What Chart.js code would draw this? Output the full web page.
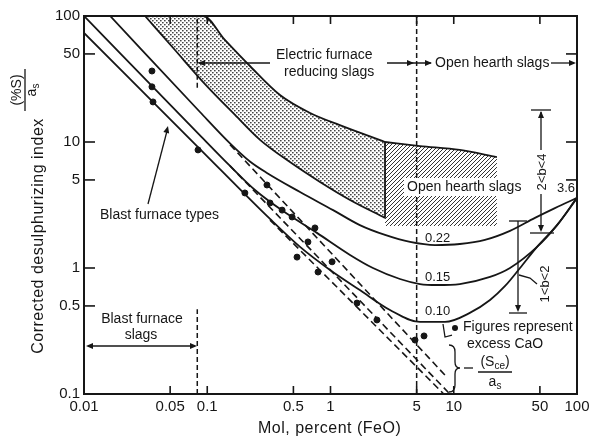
<!DOCTYPE html>
<html>
<head>
<meta charset="utf-8">
<script src="https://cdn.jsdelivr.net/npm/chart.js@4.4.0/dist/chart.umd.min.js"></script>
<style>
  html, body { margin: 0; padding: 0; background: #fff; }
</style>
</head>
<body>
<canvas id="Chart" width="597" height="440"></canvas>
<script>
const xTicks = [0.01, 0.05, 0.1, 0.5, 1, 5, 10, 50, 100];
const xTickLabels = ['0.01', '0.05', '0.1', '0.5', '1', '5', '10', '50', '100'];
const yTicks = [0.1, 0.5, 1, 5, 10, 50, 100];
const yTickLabels = ['0.1', '0.5', '1', '5', '10', '50', '100'];

// solid curves, labelled by excess CaO
const curve022 = [[0.0163, 100], [0.0873, 17.3], [0.153, 9.75], [0.222, 7.0], [0.305, 5.68], [0.566, 4.01], [1.05, 2.88], [1.73, 2.19], [2.77, 1.83], [4.42, 1.61], [7.05, 1.52], [11.2, 1.55], [17.9, 1.67], [28.6, 1.97], [45.6, 2.5], [66.2, 2.99], [100, 3.6]];
const curve015 = [[0.01, 100], [0.0873, 11.3], [0.153, 6.46], [0.244, 4.16], [0.412, 2.83], [0.776, 1.9], [1.44, 1.27], [2.21, 1.0], [3.66, 0.818], [5.32, 0.746], [7.31, 0.733], [11.2, 0.746], [19.7, 0.849], [28.6, 1.0], [47.4, 1.47], [68.9, 2.19], [100, 3.6]];
const curve010 = [[0.01, 73.3], [0.0873, 8.79], [0.323, 2.45], [0.566, 1.47], [0.991, 0.964], [1.73, 0.668], [3.04, 0.464], [5.32, 0.373], [8.49, 0.373], [13.5, 0.44], [19.7, 0.557], [26.1, 0.72], [34.5, 1.0], [47.4, 1.47], [68.9, 2.19], [100, 3.6]];

// (S_ce)/a_s lines, dashed
const sce022 = [[0.153, 9.53], [8.8, 0.136]];
const sce015 = [[0.153, 6.46], [9.3, 0.1]];
const sce010 = [[0.323, 2.4], [8.3, 0.1]];

// measured points
const caoPoints = [[0.0356, 36.6], [0.0356, 27.4], [0.0363, 20.8], [0.0842, 8.65], [0.202, 3.94], [0.305, 4.56], [0.323, 3.28], [0.405, 2.88], [0.488, 2.54], [0.748, 2.08], [0.656, 1.61], [0.535, 1.22], [0.792, 0.929], [1.03, 1.12], [1.64, 0.527], [2.38, 0.387], [4.85, 0.268], [5.74, 0.289]];

// electric furnace band and open hearth area
const bandUpper = [[0.0313, 100], [0.0924, 100], [0.139, 64.6], [0.222, 40.1], [0.389, 23.6], [0.683, 17.0], [1.19, 13.6], [2.77, 10.0]];
const bandLower = [[0.0313, 100], [0.0547, 53.7], [0.0959, 28.8], [0.168, 16.4], [0.268, 10.4], [0.469, 6.93], [0.822, 4.82], [1.44, 3.47], [2.77, 2.5]];
const bandEdge = [[2.77, 2.5], [2.77, 10.0]];
const hearthTop = [[2.77, 10.0], [5.32, 9.29], [11.2, 8.65], [22.4, 7.6]];
const hearthFloor = 2.15;

// slag type boundaries
const feoLimit = [[5, 0.1], [5, 100]];
const blastLimitLow = [[0.083, 0.1], [0.083, 0.47]];
const blastLimitHigh = [[0.083, 27], [0.083, 100]];

const FONT = '"Liberation Sans", Arial, sans-serif';
const INK = '#161616';
Chart.defaults.font.family = FONT;
Chart.defaults.color = INK;

const toXY = pts => pts.map(p => ({ x: p[0], y: p[1] }));

function makePattern(kind) {
    const tile = document.createElement('canvas');
    const p = tile.getContext('2d');
    tile.width = 4; tile.height = 4;
    p.fillStyle = '#fff';
    p.fillRect(0, 0, 4, 4);
    if (kind === 'dots') {
        p.fillStyle = '#444';
        p.fillRect(0, 0, 1.6, 1.4);
        p.fillRect(2, 2, 1.6, 1.4);
    } else {
        p.strokeStyle = '#333';
        p.lineWidth = 1;
        p.beginPath();
        p.moveTo(0, 4); p.lineTo(4, 0);
        p.moveTo(-1, 1); p.lineTo(1, -1);
        p.moveTo(3, 5); p.lineTo(5, 3);
        p.stroke();
    }
    return document.createElement('canvas').getContext('2d').createPattern(tile, 'repeat');
}

const solid = (data, extra) => Object.assign({
    data: toXY(data), showLine: true, borderColor: INK, borderWidth: 1.8,
    pointRadius: 0, fill: false, cubicInterpolationMode: 'monotone',
}, extra || {});

const datasets = [
    { label: 'points', data: toXY(caoPoints), pointRadius: 3, pointBackgroundColor: INK, pointBorderColor: INK, showLine: false },
    solid(curve022, { label: '0.22' }),
    solid(curve015, { label: '0.15' }),
    solid(curve010, { label: '0.10' }),
    solid(sce022, { label: 'sce 0.22', borderDash: [7, 4], borderWidth: 1.6 }),
    solid(sce015, { label: 'sce 0.15', borderDash: [7, 4], borderWidth: 1.6 }),
    solid(sce010, { label: 'sce 0.10', borderDash: [7, 4], borderWidth: 1.6 }),
    solid(feoLimit, { label: 'FeO 5', borderDash: [5, 3], borderWidth: 1.5, cubicInterpolationMode: 'default', tension: 0 }),
    solid(blastLimitLow, { label: 'blast low', borderDash: [5, 3], borderWidth: 1.5, cubicInterpolationMode: 'default', tension: 0 }),
    solid(blastLimitHigh, { label: 'blast high', borderDash: [5, 3], borderWidth: 1.5, cubicInterpolationMode: 'default', tension: 0 }),
    solid(bandLower, { label: 'band lower', fill: '+1', backgroundColor: makePattern('dots') }),
    solid(bandUpper, { label: 'band upper' }),
    solid(bandEdge, { label: 'band edge', cubicInterpolationMode: 'default', tension: 0 }),
    solid(hearthTop, { label: 'open hearth', fill: { value: hearthFloor }, backgroundColor: makePattern('hatch') }),
];

function arrowHead(ctx, x1, y1, x2, y2) {
    const ang = Math.atan2(y2 - y1, x2 - x1), L = 7, W = 3;
    ctx.beginPath();
    ctx.moveTo(x2, y2);
    ctx.lineTo(x2 - L * Math.cos(ang) + W * Math.sin(ang), y2 - L * Math.sin(ang) - W * Math.cos(ang));
    ctx.lineTo(x2 - L * Math.cos(ang) - W * Math.sin(ang), y2 - L * Math.sin(ang) + W * Math.cos(ang));
    ctx.closePath();
    ctx.fill();
}

function line(ctx, pts) {
    ctx.beginPath();
    ctx.moveTo(pts[0][0], pts[0][1]);
    pts.slice(1).forEach(p => ctx.lineTo(p[0], p[1]));
    ctx.stroke();
}

// text runs with subscripts: [text, size, dy]
function runs(ctx, parts, cx, cy) {
    let w = 0;
    parts.forEach(p => { ctx.font = p[1] + 'px ' + FONT; w += ctx.measureText(p[0]).width; });
    let xx = cx - w / 2;
    ctx.textAlign = 'left';
    parts.forEach(p => {
        ctx.font = p[1] + 'px ' + FONT;
        ctx.fillText(p[0], xx, cy + p[2]);
        xx += ctx.measureText(p[0]).width;
    });
}

function rotated(ctx, cx, cy, fn) {
    ctx.save();
    ctx.translate(cx, cy);
    ctx.rotate(-Math.PI / 2);
    fn();
    ctx.restore();
}

function text(ctx, s, x, y, size, align) {
    ctx.font = size + 'px ' + FONT;
    ctx.textAlign = align || 'left';
    ctx.fillText(s, x, y);
}

const annotations = {
    id: 'annotations',
    afterDatasetsDraw(chart) {
        const { ctx, chartArea: a, scales: { x, y } } = chart;
        ctx.save();
        ctx.strokeStyle = INK;
        ctx.fillStyle = INK;
        ctx.textBaseline = 'middle';

        // frame and inward ticks
        ctx.lineWidth = 2;
        ctx.strokeRect(a.left, a.top, a.right - a.left, a.bottom - a.top);
        ctx.lineWidth = 1.6;
        xTicks.slice(1, -1).forEach(v => {
            const px = x.getPixelForValue(v);
            line(ctx, [[px, a.bottom], [px, a.bottom - 8]]);
            line(ctx, [[px, a.top], [px, a.top + 8]]);
        });
        yTicks.slice(1, -1).forEach(v => {
            const py = y.getPixelForValue(v);
            line(ctx, [[a.left, py], [a.left + 11, py]]);
            line(ctx, [[a.right, py], [a.right - 11, py]]);
        });

        // slag regions
        ctx.lineWidth = 1.3;
        text(ctx, 'Electric furnace', 276, 55, 14);
        text(ctx, 'reducing slags', 284, 72, 14);
        line(ctx, [[270, 63], [199, 63]]);
        arrowHead(ctx, 270, 63, 198, 63);
        line(ctx, [[387, 63], [431, 63]]);
        arrowHead(ctx, 387, 63, 414, 63);
        arrowHead(ctx, 387, 63, 432, 63);
        text(ctx, 'Open hearth slags', 435, 63, 14);
        line(ctx, [[551, 63], [574, 63]]);
        arrowHead(ctx, 551, 63, 576, 63);

        ctx.fillStyle = '#fff';
        ctx.fillRect(404, 178, 117, 18);
        ctx.fillStyle = INK;
        text(ctx, 'Open hearth slags', 407, 187, 14);

        text(ctx, 'Blast furnace', 142, 319, 14, 'center');
        text(ctx, 'slags', 141, 335, 14, 'center');
        line(ctx, [[88, 346], [195, 346]]);
        arrowHead(ctx, 195, 346, 86, 346);
        arrowHead(ctx, 88, 346, 197, 346);

        text(ctx, 'Blast furnace types', 100, 215, 14);
        line(ctx, [[148, 204], [167, 131]]);
        arrowHead(ctx, 148, 204, 168, 126);

        // curve labels
        text(ctx, '0.22', 425, 238, 13);
        text(ctx, '0.15', 425, 277, 13);
        text(ctx, '0.10', 425, 311, 13);
        text(ctx, '3.6', 557, 188, 13);

        // b ranges
        line(ctx, [[531, 110], [551, 110]]);
        line(ctx, [[541, 112], [541, 150]]);
        arrowHead(ctx, 541, 140, 541, 111);
        line(ctx, [[541, 194], [541, 230]]);
        arrowHead(ctx, 541, 200, 541, 232);
        line(ctx, [[530, 233], [554, 233]]);
        rotated(ctx, 542, 172, () => text(ctx, '2<b<4', 0, 0, 13, 'center'));

        line(ctx, [[509, 221], [527, 221]]);
        line(ctx, [[518, 221], [518, 306]]);
        arrowHead(ctx, 518, 290, 518, 312);
        line(ctx, [[509, 313], [527, 313]]);
        line(ctx, [[519, 275], [530, 278], [537, 284]]);
        rotated(ctx, 545, 284, () => text(ctx, '1<b<2', 0, 0, 13, 'center'));

        // legend note
        ctx.beginPath();
        ctx.arc(455, 328, 3, 0, Math.PI * 2);
        ctx.fill();
        line(ctx, [[443, 324], [445, 337], [452, 335]]);
        text(ctx, 'Figures represent', 463, 327, 14);
        text(ctx, 'excess CaO', 467, 344, 14);

        // brace and (S_ce)/a_s
        ctx.beginPath();
        ctx.moveTo(449, 345);
        ctx.quadraticCurveTo(455, 345, 455, 352);
        ctx.lineTo(455, 362);
        ctx.quadraticCurveTo(455, 368, 460, 368);
        ctx.quadraticCurveTo(455, 368, 455, 374);
        ctx.lineTo(455, 385);
        ctx.quadraticCurveTo(455, 392, 449, 392);
        ctx.stroke();
        line(ctx, [[464, 368], [473, 368]]);
        runs(ctx, [['(S', 14, 0], ['ce', 10, 4], [')', 14, 0]], 495, 362);
        line(ctx, [[478, 372], [512, 372]]);
        runs(ctx, [['a', 14, 0], ['s', 10, 4]], 495, 382);

        // axis titles
        ctx.save();
        ctx.letterSpacing = '0.5px';
        text(ctx, 'Mol, percent (FeO)', 258, 429, 16);
        rotated(ctx, 39, 236, () => text(ctx, 'Corrected desulphurizing index', 0, 0, 16, 'center'));
        ctx.restore();
        rotated(ctx, 17, 90, () => text(ctx, '(%S)', 0, 0, 14, 'center'));
        line(ctx, [[25, 69], [25, 111]]);
        rotated(ctx, 32, 90, () => runs(ctx, [['a', 14, 0], ['s', 10, 4]], 0, 0));

        ctx.restore();
    },
};

const config = {
    type: 'scatter',
    data: { datasets: datasets },
    options: {
        responsive: false,
        animation: false,
        layout: { padding: { top: 16, right: 20, left: 0, bottom: 0 } },
        plugins: {
            legend: { display: false },
            tooltip: { enabled: false },
            filler: { drawTime: 'beforeDatasetsDraw' },
        },
        scales: {
            x: {
                type: 'logarithmic', min: 0.01, max: 100,
                afterBuildTicks: s => { s.ticks = xTicks.map(v => ({ value: v })); },
                afterFit: s => { s.height = 46; },
                grid: { display: false, drawTicks: false },
                border: { display: false },
                ticks: {
                    autoSkip: false, maxRotation: 0, padding: 4, color: INK,
                    font: { size: 15 },
                    callback: (v, i) => xTickLabels[i],
                },
            },
            y: {
                type: 'logarithmic', min: 0.1, max: 100,
                afterBuildTicks: s => { s.ticks = yTicks.map(v => ({ value: v })); },
                afterFit: s => { s.width = 84; },
                grid: { display: false, drawTicks: false },
                border: { display: false },
                ticks: {
                    autoSkip: false, padding: 4, color: INK,
                    font: { size: 15 },
                    callback: (v, i) => yTickLabels[i],
                },
            },
        },
    },
    plugins: [annotations],
};

const ctx = document.getElementById('Chart').getContext('2d');
const myChart = new Chart(ctx, config);
</script>
</body>
</html>
